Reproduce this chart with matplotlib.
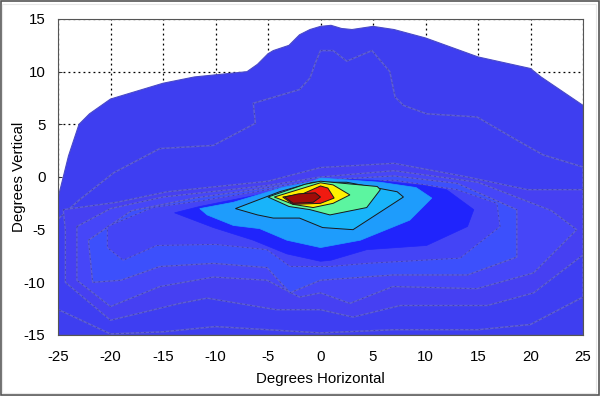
import matplotlib
matplotlib.use("Agg")
import matplotlib.pyplot as plt
from matplotlib.patches import Rectangle

plt.rcParams['font.family'] = ['Liberation Sans', 'DejaVu Sans']
plt.rcParams['axes.unicode_minus'] = False

x_ticks = [-25, -20, -15, -10, -5, 0, 5, 10, 15, 20, 25]
y_ticks = [-15, -10, -5, 0, 5, 10, 15]

# Contour outlines (degrees), outermost first
l0_x = [-25, -25, -24.5, -24, -23, -22, -20, -15, -12, -10, -7, -6, -5, -4.5, -3, -2, -1, 0, 1, 2, 3, 5, 7, 10, 15, 20, 21, 25, 25]
l0_y = [-15, -2, 0, 2, 5, 6, 7.4, 8.9, 9.5, 9.7, 10, 10.7, 11.7, 12, 12.5, 13.5, 14, 14.3, 14.4, 14.1, 14, 14.3, 14, 13.2, 11.4, 10.3, 9.5, 6.8, -15]

l1_x = [-25, -25, -23, -19.7, -15.3, -10.2, -6.2, -6.4, -2, -1, -0.5, 0, 1.2, 2.5, 4.9, 6.6, 7.1, 7.9, 10.1, 14.9, 18.7, 21.2, 25, 25, 20, 15, 7, 0, -10, -15, -20, -24.5, -25]
l1_y = [-12.6, -4, -2.2, 0.4, 2.7, 3, 5.1, 7, 8.3, 9.4, 10.8, 12, 12, 11, 12, 10, 7.6, 6.8, 6, 5.7, 3.5, 2.1, 0.95, -11.4, -14, -14.5, -14.5, -14.8, -14.2, -14.7, -14.9, -12.8, -12.6]

l2_x = [-24.5, -19.4, -14.6, -5, 0, 7, 14, 19.7, 25, 25, 20.3, 15.9, 7.6, 3.1, 0, -4.2, -10.8, -13.4, -20, -24.3, -24.3]
l2_y = [-3.1, -2.4, -1.4, -0.4, 0.9, 1.3, 0, -1.2, -1.2, -7.4, -11, -12.2, -12.2, -13.3, -12.6, -12.6, -11.5, -12, -13.6, -10, -5]

l3_x = [-23.2, -20, -15, -5, 0, 7, 15, 22, 24.4, 20.3, 14.9, 6.9, 2.8, 0, -2, -5.1, -10.2, -15.3, -20, -23.2]
l3_y = [-4.7, -3, -1.9, -0.8, 0, 0.6, -0.5, -3.2, -5, -9.1, -10.6, -10.4, -12, -11, -11.4, -9.8, -9.5, -10.4, -12.3, -9.8]

l4_x = [-22.1, -18, -12, -5, 0, 7, 13, 18.7, 18.7, 18.7, 14, 6.9, 0, -2.9, -5.1, -10.2, -15.3, -19, -21.7]
l4_y = [-6, -3.2, -2, -1, -0.3, 0.1, -0.6, -3.1, -5, -7.6, -9.3, -9.3, -9.8, -11, -8.6, -8.2, -8.5, -9.8, -10]

l5_x = [-20.3, -16, -11, -5, 0, 7, 13, 16.8, 17.1, 13.3, 4.4, 0.9, -2.9, -5.1, -10, -15.6, -18.8, -20.3]
l5_y = [-4.7, -2.9, -2.2, -1.2, -0.6, -0.3, -1.2, -2.5, -4.7, -7.7, -8.2, -8.5, -8.5, -6.9, -6.4, -6.5, -7.9, -6.7]

royal_x = [-13.9, -11.5, -6, -2, 1, 5, 9.8, 12, 14.6, 14, 10.1, 4.4, 1, 0, -3.2, -6.4, -10.2]
royal_y = [-3.4, -2.8, -1.7, -0.7, -0.2, -0.3, -0.8, -1.2, -3.1, -4.7, -6.5, -6.9, -7.9, -8, -7.3, -6, -4.8]

cyan_x = [-11.5, -8.3, -3.6, -1, 0, 5.7, 9.1, 10.6, 8.5, 3.8, 0, -3.2, -5.8, -8.3, -10.8]
cyan_y = [-3, -2.4, -1, -0.5, -0.1, -0.5, -1, -2, -4.1, -6, -6.7, -6, -4.9, -4.6, -3.6]

sky_x = [-8.1, -3.9, -0.7, 2.5, 7.3, 7.9, 3.1, 0.2, -2, -4.5, -6]
sky_y = [-3, -1.4, -0.5, -0.5, -1.4, -1.9, -5, -4.8, -3.9, -3.9, -3.6]

green_x = [-5, -1.5, 0, 5.4, 5.7, 4.4, 0.9, -1, -3]
green_y = [-1.9, -0.7, -0.4, -0.9, -1.2, -2.9, -3.6, -3.1, -2.8]

yellow_x = [-4.4, -1.3, 0, 1.2, 2.8, 1.2, -0.7, -2.6]
yellow_y = [-1.9, -0.95, -0.55, -0.75, -1.7, -2.5, -2.9, -2.6]

red_x = [-3.6, -1.7, 0, 0.7, 1.3, 0, -2.6]
red_y = [-1.9, -1.6, -0.85, -1.05, -2, -2.5, -2.6]

dark_x = [-3.4, -2.1, -0.5, 0, -0.7, -2.6]
dark_y = [-1.9, -1.6, -1.5, -1.9, -2.4, -2.5]

fig = plt.figure(figsize=(6, 3.97), dpi=100, facecolor='white')
ax = fig.add_axes([58 / 600, 1 - 335 / 397, 525 / 600, 316 / 397])

ax.grid(True, color='black', linestyle=(0, (1.5, 2.5)), linewidth=0.9, zorder=1)
ax.set_axisbelow(True)

GREY = '#5f5fd6'
BLK = '#1a1a1a'
layers = [
    (l0_x, l0_y, '#3e3ef0', '#4a4ac8', 0.8, False),
    (l1_x, l1_y, '#3e3ef2', GREY, 1.1, True),
    (l2_x, l2_y, '#4640f2', GREY, 1.0, True),
    (l3_x, l3_y, '#4646f8', GREY, 1.0, True),
    (l4_x, l4_y, '#3c50fc', GREY, 1.0, True),
    (l5_x, l5_y, '#4444f6', '#5a5ae0', 0.8, True),
    (royal_x, royal_y, '#2024fc', '#2024fc', 0.5, False),
    (cyan_x, cyan_y, '#1e9cfc', '#1e9cfc', 0.5, False),
    (sky_x, sky_y, '#18b4fa', BLK, 0.7, False),
    (green_x, green_y, '#5cf5a0', BLK, 0.7, False),
    (yellow_x, yellow_y, '#fff000', BLK, 0.7, False),
    (red_x, red_y, '#f01a10', BLK, 0.7, False),
    (dark_x, dark_y, '#a00c08', BLK, 0.7, False),
]
for i, (xs, ys, face, edge, lw, dashed) in enumerate(layers):
    ax.fill(xs, ys, facecolor=face, edgecolor=edge, linewidth=lw, zorder=2 + i)
    if dashed:
        ax.plot(list(xs) + [xs[0]], list(ys) + [ys[0]], color='#24248c', alpha=0.6,
                linewidth=0.6, linestyle=(0, (2, 4)), zorder=2 + i)

ax.set_xlim(-25, 25)
ax.set_ylim(-15, 15)
ax.set_xticks(x_ticks)
ax.set_yticks(y_ticks)
ax.tick_params(direction='in', length=3, width=0.7, labelsize=10.8, color='#333333')
ax.tick_params(axis='x', pad=11)
ax.tick_params(axis='y', pad=9)
ax.set_xlabel('Degrees Horizontal', fontsize=10.8, va='center')
ax.set_ylabel('Degrees Vertical', fontsize=10.8, va='center')
ax.xaxis.set_label_coords(0.5, -44 / 316)
ax.yaxis.set_label_coords(-39 / 525, 0.5)
for s in ax.spines.values():
    s.set_linewidth(0.8)
    s.set_color('#555555')
    s.set_zorder(30)

# Picture frame
fig.add_artist(Rectangle((0.5 / 600, 2 / 397), 598 / 600, 394 / 397, transform=fig.transFigure,
                         fill=False, edgecolor='#555555', linewidth=1.2))
fig.add_artist(Rectangle((1.5 / 600, 4 / 397), 594 / 600, 389 / 397, transform=fig.transFigure,
                         fill=False, edgecolor='#e8e8e8', linewidth=0.8))

fig.savefig('out.png', dpi=100)
